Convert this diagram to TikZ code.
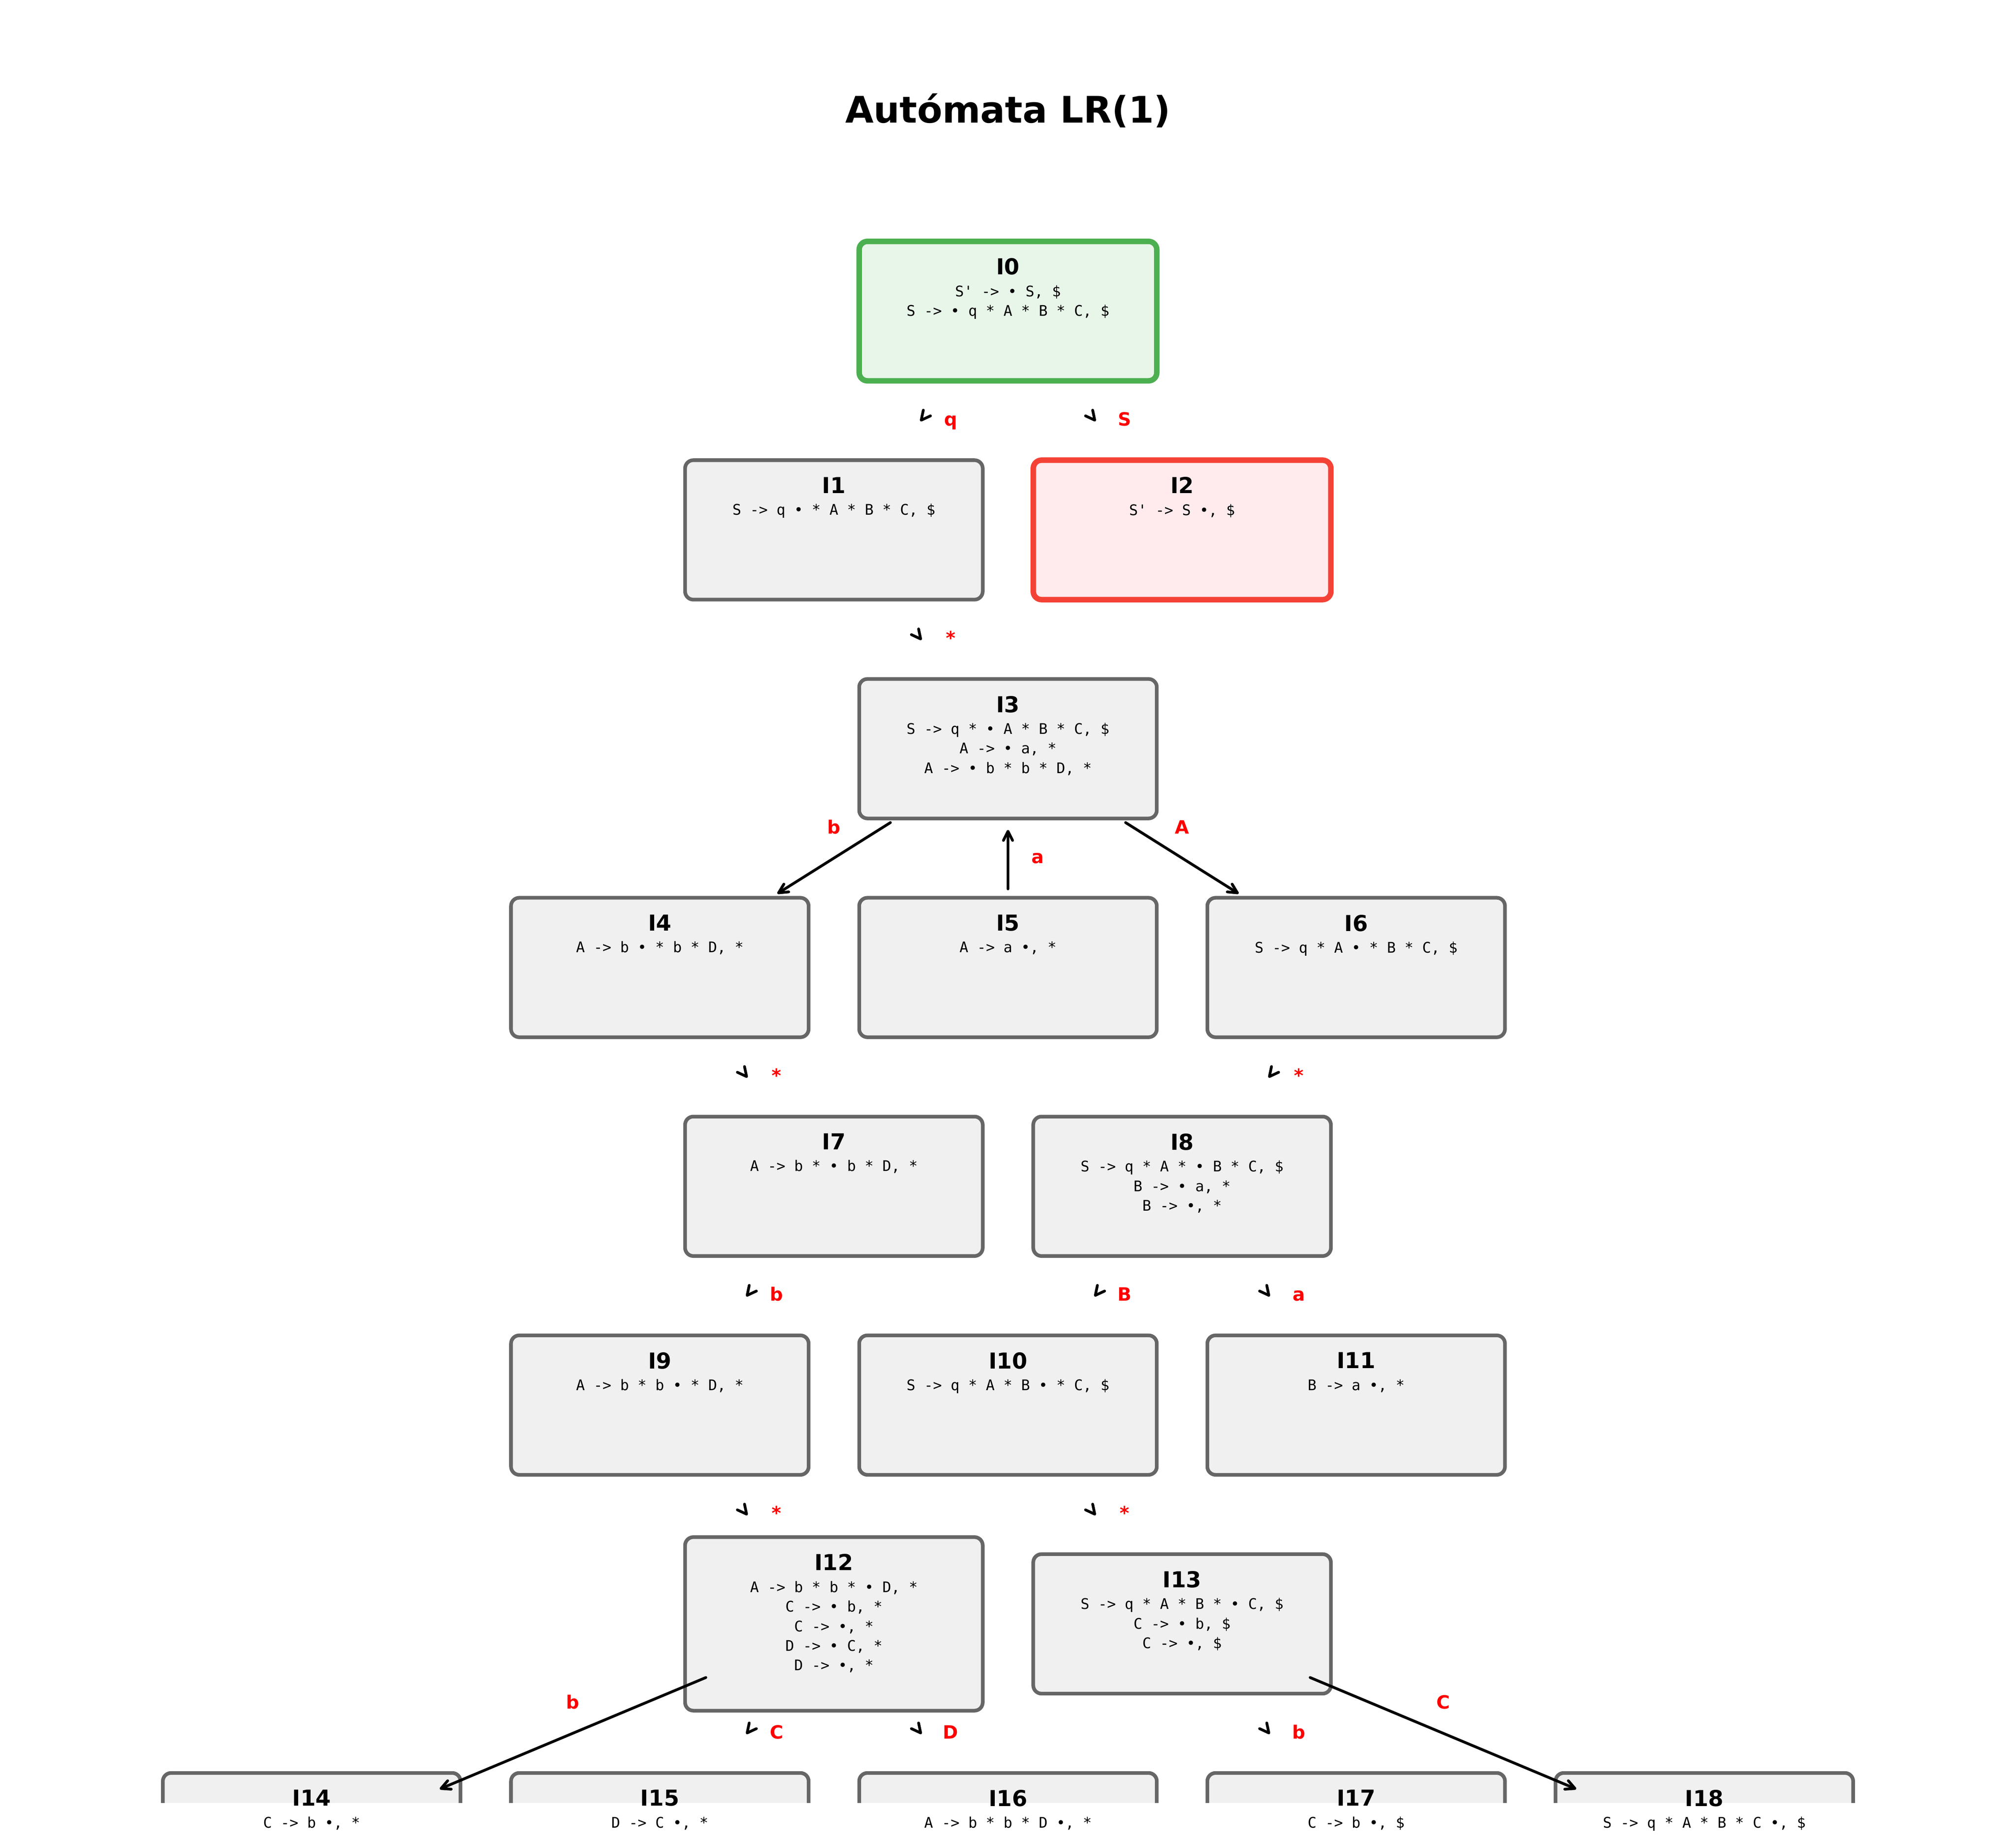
\documentclass[tikz,border=0pt]{standalone}
\usepackage{fontspec}
\setmainfont{DejaVu Sans}
\newfontfamily\itemfont{DejaVu Sans Mono}[Ligatures=TeXOff]
\usetikzlibrary{arrows.meta}
\definecolor{boxgray}{HTML}{666666}
\definecolor{boxfill}{HTML}{F0F0F0}
\definecolor{startdraw}{HTML}{4CAF50}
\definecolor{startfill}{HTML}{E8F5E9}
\definecolor{acceptdraw}{HTML}{F44336}
\definecolor{acceptfill}{HTML}{FFEBEE}
\newcommand{\stitle}[1]{{\normalfont\bfseries\fontsize{12}{14}\selectfont #1}\\[1.2pt]}

\begin{document}
\begin{tikzpicture}[x=3.341cm, y=-4.2cm,
	state/.style={draw=boxgray, fill=boxfill, line width=2pt, rounded corners=4.5pt, minimum width=5.712cm, minimum height=2.677cm, inner sep=0pt, outer sep=0pt},
	start/.style={draw=startdraw, fill=startfill, line width=3pt},
	accept/.style={draw=acceptdraw, fill=acceptfill, line width=3pt},
	items/.style={anchor=north, yshift=-9.1pt, inner sep=0pt, align=center, font=\itemfont\fontsize{8}{10.7}\selectfont},
	trans/.style={-{Straight Barb[length=5pt,width=5pt,round]}, line width=1.5pt, line cap=round, shorten <=2.665cm, shorten >=2.665cm},
	lbl/.style={text=red, font=\bfseries\fontsize{10}{12}\selectfont, inner sep=0pt, text height=7.5pt, text depth=1.7pt},
	]
\useasboundingbox[fill=white] (-5.7903,-1.4219) rectangle (5.7903,7.0047);
\node[font=\bfseries\fontsize{20}{24}\selectfont, anchor=base, inner sep=0pt] (title) at (0,-0.8607) {Autómata LR(1)};

% states
\node[state, start] (I0) at (0,0) {};
\node[state] (I1) at (-1,1) {};
\node[state, accept] (I2) at (1,1) {};
\node[state] (I3) at (0,2) {};
\node[state] (I4) at (-2,3) {};
\node[state] (I5) at (0,3) {};
\node[state] (I6) at (2,3) {};
\node[state] (I7) at (-1,4) {};
\node[state] (I8) at (1,4) {};
\node[state] (I9) at (-2,5) {};
\node[state] (I10) at (0,5) {};
\node[state] (I11) at (2,5) {};
\node[state, minimum height=3.331cm] (I12) at (-1,6) {};
\node[state] (I13) at (1,6) {};
\begin{scope}
	\clip (-5.7903,-1.4219) rectangle (5.7903,6.818);
	\node[state] (I14) at (-4,7) {};
	\node[state] (I15) at (-2,7) {};
	\node[state] (I16) at (0,7) {};
	\node[state] (I17) at (2,7) {};
	\node[state] (I18) at (4,7) {};
\end{scope}

% items
\node[items] (I0t) at (I0.north) {\stitle{I0}S' -> • S, \$\\S -> • q * A * B * C, \$};
\node[items] (I1t) at (I1.north) {\stitle{I1}S -> q • * A * B * C, \$};
\node[items] (I2t) at (I2.north) {\stitle{I2}S' -> S •, \$};
\node[items] (I3t) at (I3.north) {\stitle{I3}S -> q * • A * B * C, \$\\A -> • a, *\\A -> • b * b * D, *};
\node[items] (I4t) at (I4.north) {\stitle{I4}A -> b • * b * D, *};
\node[items] (I5t) at (I5.north) {\stitle{I5}A -> a •, *};
\node[items] (I6t) at (I6.north) {\stitle{I6}S -> q * A • * B * C, \$};
\node[items] (I7t) at (I7.north) {\stitle{I7}A -> b * • b * D, *};
\node[items] (I8t) at (I8.north) {\stitle{I8}S -> q * A * • B * C, \$\\B -> • a, *\\B -> •, *};
\node[items] (I9t) at (I9.north) {\stitle{I9}A -> b * b • * D, *};
\node[items] (I10t) at (I10.north) {\stitle{I10}S -> q * A * B • * C, \$};
\node[items] (I11t) at (I11.north) {\stitle{I11}B -> a •, *};
\node[items] (I12t) at (I12.north) {\stitle{I12}A -> b * b * • D, *\\C -> • b, *\\C -> •, *\\D -> • C, *\\D -> •, *};
\node[items] (I13t) at (I13.north) {\stitle{I13}S -> q * A * B * • C, \$\\C -> • b, \$\\C -> •, \$};
\node[items] (I14t) at (I14.north) {\stitle{I14}C -> b •, *};
\node[items] (I15t) at (I15.north) {\stitle{I15}D -> C •, *};
\node[items] (I16t) at (I16.north) {\stitle{I16}A -> b * b * D •, *};
\node[items] (I17t) at (I17.north) {\stitle{I17}C -> b •, \$};
\node[items] (I18t) at (I18.north) {\stitle{I18}S -> q * A * B * C •, \$};

% transitions
\draw[trans] (I0.center) -- (I1.center) node[lbl, midway, xshift=0.57cm] {q};
\draw[trans] (I0.center) -- (I2.center) node[lbl, midway, xshift=0.57cm] {S};
\draw[trans] (I1.center) -- (I3.center) node[lbl, midway, xshift=0.57cm] {*};
\draw[trans] (I3.center) -- (I4.center) node[lbl, midway, yshift=0.57cm] {b};
\draw[trans] (I3.center) -- (I6.center) node[lbl, midway, yshift=0.57cm] {A};
\draw[trans, shorten <=0.17cm, shorten >=0.22cm] (I5.north) -- (I3.south) node[lbl, midway, xshift=0.57cm] {a};
\draw[trans] (I4.center) -- (I7.center) node[lbl, midway, xshift=0.57cm] {*};
\draw[trans] (I6.center) -- (I8.center) node[lbl, midway, xshift=0.57cm] {*};
\draw[trans] (I7.center) -- (I9.center) node[lbl, midway, xshift=0.57cm] {b};
\draw[trans] (I8.center) -- (I10.center) node[lbl, midway, xshift=0.57cm] {B};
\draw[trans] (I8.center) -- (I11.center) node[lbl, midway, xshift=0.57cm] {a};
\draw[trans] (I9.center) -- (I12.center) node[lbl, midway, xshift=0.57cm] {*};
\draw[trans] (I10.center) -- (I13.center) node[lbl, midway, xshift=0.57cm] {*};
\draw[trans] (I12.center) -- (I14.center) node[lbl, midway, yshift=0.57cm] {b};
\draw[trans] (I12.center) -- (I15.center) node[lbl, midway, xshift=0.57cm] {C};
\draw[trans] (I12.center) -- (I16.center) node[lbl, midway, xshift=0.57cm] {D};
\draw[trans] (I13.center) -- (I17.center) node[lbl, midway, xshift=0.57cm] {b};
\draw[trans] (I13.center) -- (I18.center) node[lbl, midway, yshift=0.57cm] {C};
\end{tikzpicture}
\end{document}
